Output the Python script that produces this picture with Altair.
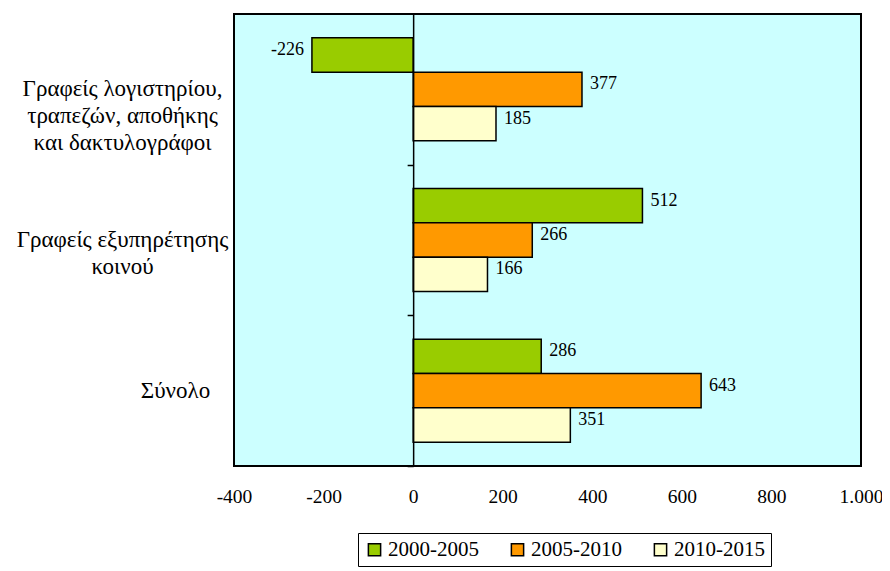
import altair as alt
import pandas as pd

categories = ["Γραφείς λογιστηρίου,|τραπεζών, αποθήκης|και δακτυλογράφοι",
              "Γραφείς εξυπηρέτησης|κοινού",
              "Σύνολο"]
series = ["2000-2005", "2005-2010", "2010-2015"]
values = {
    "2000-2005": [-226, 512, 286],
    "2005-2010": [377, 266, 643],
    "2010-2015": [185, 166, 351],
}
colors = ["#99CC00", "#FF9900", "#FFFFCC"]
x_ticks = [-400, -200, 0, 200, 400, 600, 800, 1000]

rows = []
for s in series:
    for c, v in zip(categories, values[s]):
        rows.append({"cat": c, "series": s, "value": v})
df = pd.DataFrame(rows)

FONT = "'Liberation Serif', 'DejaVu Serif', serif"
W, H = 627, 452
zero_px = W * 400 / 1400
step = H / 3

xscale = alt.Scale(domain=[-400, 1000], nice=False, zero=False)
yscale = alt.Scale(domain=categories, paddingInner=0.316, paddingOuter=0.158)

base = alt.Chart(df).transform_calculate(label="toString(datum.value)")

bars = base.mark_bar(stroke="black", strokeWidth=1.5).encode(
    x=alt.X("value:Q", scale=xscale, title=None,
            axis=alt.Axis(values=x_ticks, grid=False, ticks=False, domain=False,
                          labelFont=FONT, labelFontSize=19.5, labelColor="black",
                          labelPadding=21, labelFlush=False,
                          labelExpr="replace(replace(format(datum.value, ','), ',', '.'), '\u2212', '-')")),
    y=alt.Y("cat:N", sort=categories, scale=yscale, title=None,
            axis=alt.Axis(domain=False, ticks=False, labelFont=FONT, labelFontSize=23,
                          labelColor="black", labelAlign="center", labelBaseline="middle",
                          labelPadding={"condition": {"test": "datum.value == 'Σύνολο'", "value": 59},
                                        "value": 112},
                          labelLineHeight=27, labelLimit=400,
                          labelExpr="split(datum.label, '|')")),
    yOffset=alt.YOffset("series:N", sort=series, scale=alt.Scale(paddingInner=0, paddingOuter=0)),
    color=alt.Color("series:N", sort=series,
                    scale=alt.Scale(domain=series, range=colors),
                    legend=alt.Legend(title=None, orient="none", direction="horizontal",
                                      legendX=124, legendY=519,
                                      strokeColor="black", padding=6,
                                      symbolType="square", symbolSize=150,
                                      symbolStrokeColor="black", symbolStrokeWidth=1.5,
                                      labelFont=FONT, labelFontSize=21, labelColor="black",
                                      columnPadding=28, labelOffset=3)),
)

zero_axis = base.mark_point(opacity=0).encode(
    y=alt.Y("cat:N", sort=categories, scale=yscale, title=None,
            axis=alt.Axis(orient="left", offset=-zero_px, domain=True, domainColor="black",
                          domainWidth=1.5, ticks=True, tickOffset=step / 2, tickSize=6,
                          tickColor="black", tickWidth=1.5, labels=False, zindex=1)),
    x=alt.X("value:Q", scale=xscale),
)

lbl_common = dict(font=FONT, fontSize=18, color="black", dy=-5, baseline="middle")
pos = base.transform_filter("datum.value >= 0").mark_text(align="left", dx=8, **lbl_common).encode(
    x=alt.X("value:Q", scale=xscale),
    y=alt.Y("cat:N", sort=categories, scale=yscale, axis=None),
    yOffset=alt.YOffset("series:N", sort=series),
    text=alt.Text("label:N"),
)
neg = base.transform_filter("datum.value < 0").mark_text(align="right", dx=-8, **lbl_common).encode(
    x=alt.X("value:Q", scale=xscale),
    y=alt.Y("cat:N", sort=categories, scale=yscale, axis=None),
    yOffset=alt.YOffset("series:N", sort=series),
    text=alt.Text("label:N"),
)

chart = alt.layer(bars, zero_axis, pos, neg).resolve_axis(y="independent").properties(
    width=W, height=H,
    autosize=alt.AutoSizeParams(type="none"),
    padding={"left": 226, "top": 6, "right": 21, "bottom": 110},
).configure_view(fill="#CCFFFF", stroke="black", strokeWidth=2).configure_axis(
    labelFont=FONT
).configure_legend(labelFont=FONT).configure_text(font=FONT)

chart.save("out.html", embed_options={"renderer": "svg", "actions": False})
